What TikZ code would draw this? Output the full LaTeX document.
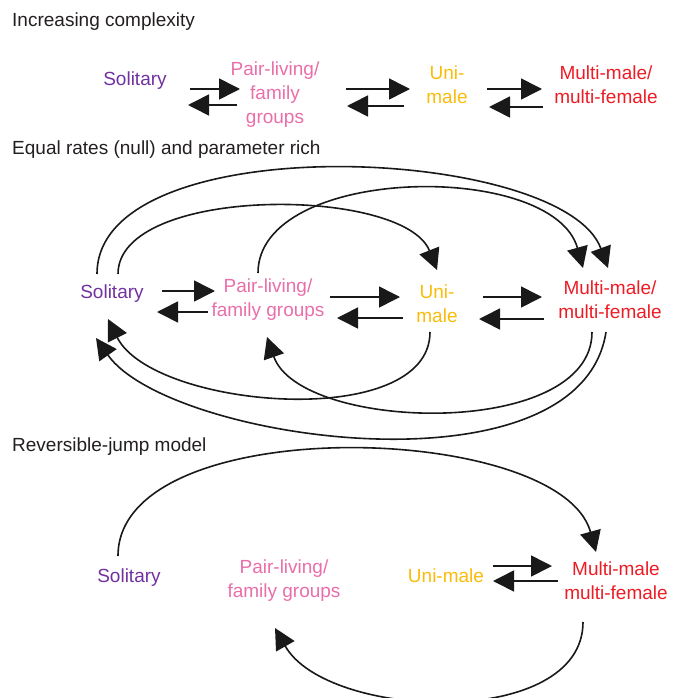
\documentclass[tikz,border=0pt]{standalone}
\usepackage{fontspec}
\setmainfont{Liberation Sans}
\usepackage{tikz}
\usetikzlibrary{arrows.meta}
\definecolor{solitarycol}{RGB}{112,50,160}
\definecolor{paircol}{RGB}{233,110,170}
\definecolor{unicol}{RGB}{250,188,10}
\definecolor{multicol}{RGB}{237,28,36}
\definecolor{titlecol}{RGB}{35,31,32}
\tikzset{>={Triangle[length=21pt,width=21pt]}}
\tikzset{
  state/.style={font=\fontsize{19}{24}\selectfont, align=center, inner sep=0pt},
  heading/.style={font=\fontsize{19}{22}\selectfont, anchor=west, inner sep=0pt, text=titlecol},
  trans/.style={->, line width=1.6pt, black!90}
}

\begin{document}
\begin{tikzpicture}[x=1pt, y=-1pt]
      \useasboundingbox (0,0) rectangle (672,698);

      % increasing complexity
      \node (head1) at (12,22) [heading] {Increasing complexity};
      \node (sol1) at (135,81) [state, text=solitarycol] {Solitary};
      \node (pair1) at (275,95) [state, text=paircol] {Pair-living/\\family\\groups};
      \node (uni1) at (447,85) [state, text=unicol] {Uni-\\male};
      \node (multi1) at (606,85) [state, text=multicol] {Multi-male/\\multi-female};

      \draw[trans] ([shift={(55,8)}]sol1.center) -- ([shift={(-35,-6)}]pair1.center);
      \draw[trans] ([shift={(-38,10)}]pair1.center) -- ([shift={(53,24)}]sol1.center);
      \draw[trans] ([shift={(71,-6)}]pair1.center) -- ([shift={(-37,4)}]uni1.center);
      \draw[trans] ([shift={(-43,21)}]uni1.center) -- ([shift={(72,11)}]pair1.center);
      \draw[trans] ([shift={(40,4)}]uni1.center) -- ([shift={(-64,4)}]multi1.center);
      \draw[trans] ([shift={(-63,22)}]multi1.center) -- ([shift={(42,22)}]uni1.center);

      % equal rates and parameter rich
      \node (head2) at (12,150) [heading] {Equal rates (null) and parameter rich};
      \node (sol2) at (112,294) [state, text=solitarycol] {Solitary};
      \node (pair2) at (268,300) [state, text=paircol] {Pair-living/\\family groups};
      \node (uni2) at (437,304) [state, text=unicol] {Uni-\\male};
      \node (multi2) at (610,300) [state, text=multicol] {Multi-male/\\multi-female};

      \draw[trans] ([shift={(50,-3)}]sol2.center) -- ([shift={(-53,-9)}]pair2.center);
      \draw[trans] ([shift={(-60,12)}]pair2.center) -- ([shift={(45,18)}]sol2.center);
      \draw[trans] ([shift={(62,-3)}]pair2.center) -- ([shift={(-37,-7)}]uni2.center);
      \draw[trans] ([shift={(-34,14)}]uni2.center) -- ([shift={(69,18)}]pair2.center);
      \draw[trans] ([shift={(46,-7)}]uni2.center) -- ([shift={(-68,-3)}]multi2.center);
      \draw[trans] ([shift={(-66,19)}]multi2.center) -- ([shift={(42,15)}]uni2.center);

      \draw[trans] ([shift={(-15,-20)}]sol2.center) .. controls +(0,-149) and +(-45,-123) .. ([shift={(-2,-32)}]multi2.center);
      \draw[trans] ([shift={(6,-20)}]sol2.center) .. controls +(0,-89) and +(-33,-84) .. ([shift={(0,-34)}]uni2.center);
      \draw[trans] ([shift={(-10,-27)}]pair2.center) .. controls +(0,-108) and +(-30,-108) .. ([shift={(-27,-32)}]multi2.center);
      \draw[trans] ([shift={(-7,28)}]uni2.center) .. controls +(0,100) and +(45,90) .. ([shift={(-4,25)}]sol2.center);
      \draw[trans] ([shift={(-18,32)}]multi2.center) .. controls +(0,108) and +(33,95) .. ([shift={(-1,37)}]pair2.center);
      \draw[trans] ([shift={(-4,32)}]multi2.center) .. controls +(-26,168) and +(72,103) .. ([shift={(-16,44)}]sol2.center);

      % reversible-jump
      \node (head3) at (12,447) [heading] {Reversible-jump model};
      \node (sol3) at (129,578) [state, text=solitarycol] {Solitary};
      \node (pair3) at (284,581) [state, text=paircol] {Pair-living/\\family groups};
      \node (uni3) at (446,576) [state, text=unicol] {Uni-male};
      \node (multi3) at (616,581) [state, text=multicol] {Multi-male\\multi-female};

      \draw[trans] ([shift={(47,-10)}]uni3.center) -- ([shift={(-64,-15)}]multi3.center);
      \draw[trans] ([shift={(-58,0)}]multi3.center) -- ([shift={(47,5)}]uni3.center);

      \draw[trans] ([shift={(-11,-22)}]sol3.center) .. controls +(0,-146) and +(-36,-131) .. ([shift={(-20,-29)}]multi3.center);
      \draw[trans] ([shift={(-33,41)}]multi3.center) .. controls +(0,108) and +(52,92) .. ([shift={(-9,47)}]pair3.center);
\end{tikzpicture}
\end{document}
